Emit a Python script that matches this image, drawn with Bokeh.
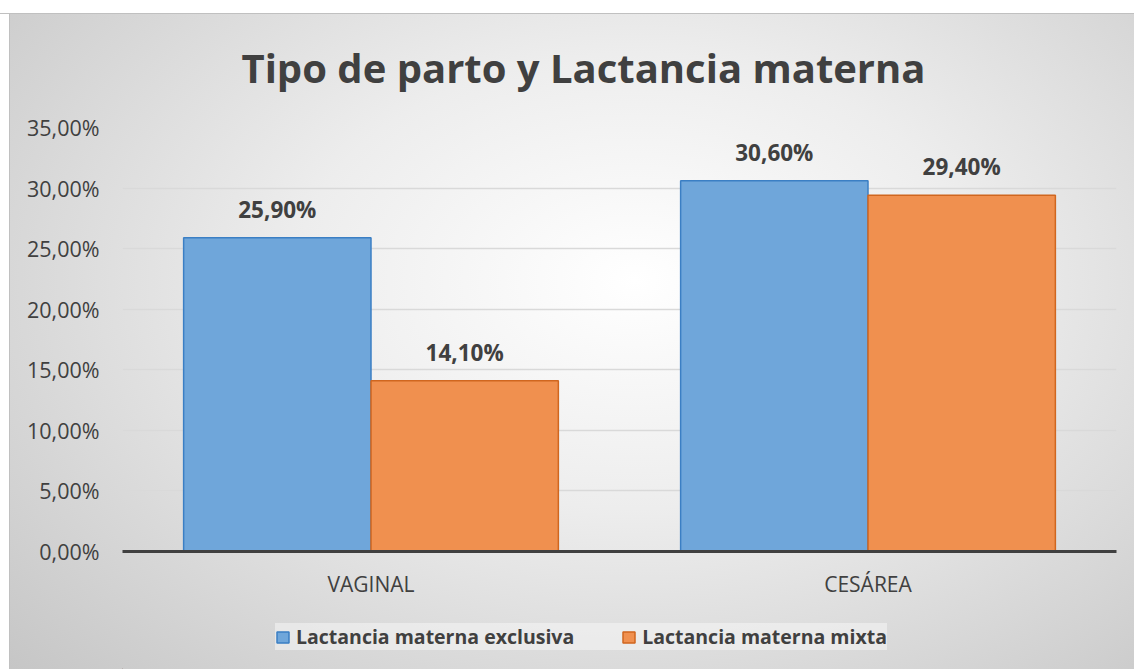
from bokeh.plotting import figure
from bokeh.layouts import column
from bokeh.models import (FactorRange, Range1d, ColumnDataSource, LabelSet, Legend,
                          LegendItem, CustomJSTickFormatter, FixedTicker)
from bokeh.core.properties import value
from bokeh.transform import dodge
from bokeh.embed import file_html
from bokeh.resources import INLINE

categories = ["VAGINAL", "CESÁREA"]
exclusiva = [25.9, 30.6]
mixta = [14.1, 29.4]
series_names = ["Lactancia materna exclusiva", "Lactancia materna mixta"]
y_ticks = [0, 5, 10, 15, 20, 25, 30, 35]

def fmt(v):
    return ("%.2f" % v).replace(".", ",") + "%"

src = ColumnDataSource(dict(
    cat=categories,
    exc=exclusiva,
    mix=mixta,
    exc_lbl=[fmt(v) for v in exclusiva],
    mix_lbl=[fmt(v) for v in mixta],
))

FONT = "Open Sans"
TXT = "#404040"
BLUE_FILL, BLUE_LINE = "#6fa6da", "#3b7fc4"
ORANGE_FILL, ORANGE_LINE = "#f0904f", "#d0661f"

p = figure(width=1134, height=606, output_backend="svg", toolbar_location=None,
           x_range=FactorRange(factors=categories, range_padding=0),
           y_range=Range1d(0, 35),
           min_border_left=122, min_border_right=18, min_border_top=127,
           min_border_bottom=55)
p.background_fill_alpha = 0
p.border_fill_alpha = 0
p.outline_line_color = None

p.title.text = "Tipo de parto y Lactancia materna"
p.title.text_font = FONT
p.title.text_font_style = "bold"
p.title.text_font_size = "40px"
p.title.text_color = TXT
p.title.align = "left"
p.title.offset = 119
p.title.standoff = 66

bw = 0.377
r1 = p.vbar(x=dodge("cat", -bw / 2, range=p.x_range), top="exc", width=bw, source=src,
            fill_color=BLUE_FILL, line_color=BLUE_LINE, line_width=1.5)
r2 = p.vbar(x=dodge("cat", bw / 2, range=p.x_range), top="mix", width=bw, source=src,
            fill_color=ORANGE_FILL, line_color=ORANGE_LINE, line_width=1.5)

for col, lbl, off in (("exc", "exc_lbl", -bw / 2), ("mix", "mix_lbl", bw / 2)):
    p.add_layout(LabelSet(x=dodge("cat", off, range=p.x_range), y=col, text=lbl, source=src,
                          text_align="center", text_baseline="alphabetic", y_offset=20,
                          text_font=value(FONT), text_font_style="bold", text_font_size="22.5px",
                          text_color=TXT))

p.yaxis.ticker = FixedTicker(ticks=y_ticks)
p.yaxis.formatter = CustomJSTickFormatter(code="return tick.toFixed(2).replace('.', ',') + '%';")
p.yaxis.axis_line_color = None
p.yaxis.major_tick_line_color = None
p.yaxis.minor_tick_line_color = None
p.yaxis.major_label_standoff = 17
p.yaxis.major_label_text_font = FONT
p.yaxis.major_label_text_font_size = "21.5px"
p.yaxis.major_label_text_color = TXT

p.xaxis.axis_line_color = "#404040"
p.xaxis.axis_line_width = 3
p.xaxis.major_tick_line_color = None
p.xaxis.minor_tick_line_color = None
p.xaxis.major_label_standoff = 12
p.xaxis.major_label_text_font = FONT
p.xaxis.major_label_text_font_size = "21px"
p.xaxis.major_label_text_color = TXT

p.xgrid.grid_line_color = None
p.ygrid.grid_line_color = "#d9d9d9"
p.ygrid.grid_line_width = 1.5

# legend strip below the chart; its renderers lie entirely outside the visible ranges
p2 = figure(width=1134, height=63, output_backend="svg", toolbar_location=None,
            x_range=Range1d(100, 101), y_range=Range1d(100, 101),
            x_axis_type=None, y_axis_type=None,
            min_border_left=122, min_border_right=18, min_border_top=0, min_border_bottom=0)
p2.background_fill_alpha = 0
p2.border_fill_alpha = 0
p2.outline_line_color = None
p2.grid.visible = False
l1 = p2.vbar(x="exc", top="exc", width=0.1, source=src,
             fill_color=BLUE_FILL, line_color=BLUE_LINE, line_width=1.5)
l2 = p2.vbar(x="mix", top="mix", width=0.1, source=src,
             fill_color=ORANGE_FILL, line_color=ORANGE_LINE, line_width=1.5)

legend = Legend(items=[LegendItem(label=series_names[0], renderers=[l1]),
                       LegendItem(label=series_names[1], renderers=[l2])],
                orientation="horizontal", location=(153, 19),
                background_fill_color="#f6f6f6", background_fill_alpha=0.55,
                border_line_color=None, label_text_font=FONT, label_text_font_style="bold",
                label_text_font_size="19.5px", label_text_color=TXT,
                glyph_width=15, glyph_height=14, label_standoff=6, spacing=47,
                label_height=24, padding=11, margin=0)
p2.add_layout(legend, "center")

layout = column(p, p2, spacing=0)
layout.styles = {"background": (
    "linear-gradient(to bottom, #ffffff 0px, #ffffff 13px, #c0c0c0 13px, #c0c0c0 14px, rgba(0,0,0,0) 14px),"
    "linear-gradient(to right, #ffffff 0px, #ffffff 9px, #c0c0c0 9px, #c0c0c0 10px, rgba(0,0,0,0) 10px),"
    "radial-gradient(ellipse 75% 85% at 56% 42%, #ffffff 0%, #ededed 40%, #c6c6c6 100%)")}

open("out.html", "w").write(file_html(layout, INLINE))
